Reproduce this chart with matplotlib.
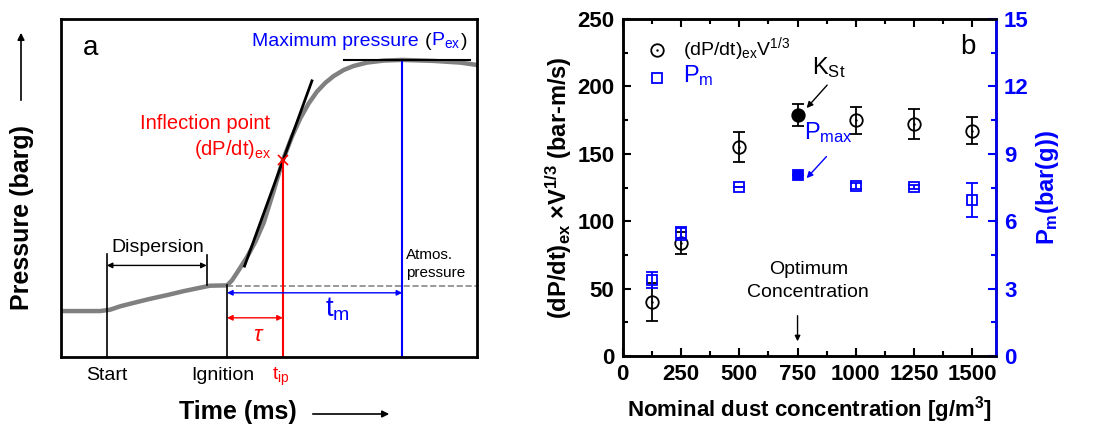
import numpy as np
import matplotlib
matplotlib.use('Agg')
from matplotlib import pyplot as plt
from matplotlib.ticker import MultipleLocator
from matplotlib.lines import Line2D

plt.rcParams['font.family'] = ['Liberation Sans', 'DejaVu Sans']
plt.rcParams['mathtext.fontset'] = 'custom'
plt.rcParams['mathtext.rm'] = 'Liberation Sans'
plt.rcParams['mathtext.it'] = 'Liberation Sans:italic'
plt.rcParams['mathtext.bf'] = 'Liberation Sans:bold'

# ---- panel a : schematic pressure trace (% of box) ----
trace_t = [0, 9.4, 11.8, 14.2, 17.4, 21.0, 25.4, 29.5, 33.4, 35.8, 39.9,
           41.1, 42.7, 44.7, 46.7, 48.7, 51.1, 53.3, 55.5, 57.5, 59.5,
           61.5, 63.5, 65.5, 67.9, 70.3, 73.5, 77.5, 82.0, 89.6, 96.0, 100]
trace_p = [13.6, 13.6, 14.0, 15.0, 16.0, 17.1, 18.3, 19.5, 20.5, 21.1, 21.2,
           22.7, 25.7, 29.6, 34.1, 39.7, 49.1, 58.2, 65.2, 70.6, 75.0,
           78.5, 81.1, 83.1, 84.9, 86.1, 87.1, 87.7, 87.9, 87.6, 87.1, 86.4]
tangent_t = [44.1, 60.3]
tangent_p = [26.9, 81.7]
t_start, t_disp_end, t_ign, t_ip, t_max = 11.0, 35.0, 39.9, 53.3, 82.0
p_atm, p_ip, p_max = 20.9, 58.2, 87.9

# ---- panel b : data ----
conc = [125, 250, 500, 750, 1000, 1250, 1500]
kst = [40, 84, 155, 179, 175, 172, 167]
kst_err = [14, 8, 11, 8, 10, 11, 10]
pm = [3.38, 5.46, 7.53, 8.08, 7.57, 7.53, 6.94]
pm_err = [0.35, 0.28, 0.0, 0.0, 0.15, 0.08, 0.77]
opt = 750

fig = plt.figure(figsize=(11.2, 4.37), dpi=100)

# =========================== panel a ===========================
ax = fig.add_axes([0.0545, 0.183, 0.3715, 0.7735])
ax.set_xlim(0, 100); ax.set_ylim(0, 100)
ax.set_xticks([]); ax.set_yticks([])
for s in ax.spines.values():
    s.set_linewidth(2)

ax.plot(trace_t, trace_p, '-', color='#808080', lw=3.2,
        solid_capstyle='round', solid_joinstyle='round')
ax.plot(tangent_t, tangent_p, '-k', lw=2)
ax.plot([t_ign, 100], [p_atm, p_atm], '--', color='#888888', lw=1.2)
ax.plot([t_start, t_start], [0, 30.6], '-k', lw=1.2)
ax.plot([t_disp_end, t_disp_end], [21.2, 30.1], '-k', lw=1.2)
ax.plot([t_ign, t_ign], [0, 21.2], '-k', lw=1.2)
ax.plot([t_ip, t_ip], [0, p_ip], '-r', lw=1.5)
ax.plot([t_max, t_max], [0, p_max], '-b', lw=1.5)
ax.plot([67.9, 98.4], [p_max, p_max], '-k', lw=1.5)
ax.plot([t_ip], [p_ip], 'x', color='r', ms=7, mew=1.2)

arr = dict(arrowstyle='<|-|>', lw=1, mutation_scale=8, shrinkA=0, shrinkB=0)
ax.annotate('', xy=(t_start, 27.1), xytext=(t_disp_end, 27.1),
            arrowprops=dict(arr, color='k'))
ax.annotate('', xy=(t_ign, 19.0), xytext=(t_max, 19.0),
            arrowprops=dict(arr, color='b'))
ax.annotate('', xy=(t_ign, 11.6), xytext=(t_ip, 11.6),
            arrowprops=dict(arr, color='r'))

ax.text(23.2, 32.3, 'Dispersion', ha='center', va='center', fontsize=14)
ax.text(66.5, 14.0, 't$_{\\mathrm{m}}$', ha='center', va='center', fontsize=20, color='b')
ax.text(47.5, 6.5, '$\\tau$', ha='center', va='center', fontsize=16, color='r',
        family='DejaVu Serif', style='italic')
ax.text(34.6, 69.0, 'Inflection point', ha='center', va='center', fontsize=14.5, color='r')
ax.text(50.5, 61.5, '(dP/dt)$_{\\mathrm{ex}}$', ha='right', va='center', fontsize=14.5, color='r')
ax.text(82.8, 27.5, 'Atmos.\npressure', ha='left', va='center', fontsize=11,
        linespacing=1.3)
ax.text(7.0, 91.5, 'a', ha='center', va='center', fontsize=20)

t1 = ax.text(46.0, 93.3, 'Maximum pressure ', ha='left', va='center',
             fontsize=14, color='b')
t2 = ax.annotate('(', xycoords=t1, xy=(1, 0), va='bottom', fontsize=14, color='k')
t3 = ax.annotate('P$_{\\mathrm{ex}}$', xycoords=t2, xy=(1, 0), va='bottom',
                 fontsize=14, color='b')
ax.annotate(')', xycoords=t3, xy=(1, 0), va='bottom', fontsize=14, color='k')

ax.text(t_start, -5.5, 'Start', ha='center', va='center', fontsize=14, clip_on=False)
ax.text(38.9, -5.5, 'Ignition', ha='center', va='center', fontsize=14, clip_on=False)
ax.text(52.9, -6.0, 't$_{\\mathrm{ip}}$', ha='center', va='center', fontsize=14,
        color='r', clip_on=False)

fig.text(238 / 1120, 1 - 412 / 437, 'Time (ms)', ha='center', va='center',
         fontsize=18, fontweight='bold')
fig.text(22 / 1120, 1 - 217 / 437, 'Pressure (barg)', ha='center', va='center',
         fontsize=18, fontweight='bold', rotation=90)
fig.add_artist(matplotlib.patches.FancyArrowPatch(
    (310 / 1120, 1 - 414 / 437), (392 / 1120, 1 - 414 / 437),
    transform=fig.transFigure, arrowstyle='-|>', mutation_scale=10, lw=1.2, color='k'))
fig.add_artist(matplotlib.patches.FancyArrowPatch(
    (21 / 1120, 1 - 103 / 437), (21 / 1120, 1 - 30 / 437),
    transform=fig.transFigure, arrowstyle='-|>', mutation_scale=10, lw=1.2, color='k'))

# =========================== panel b ===========================
bx = fig.add_axes([0.556, 0.185, 0.333, 0.7715])
bx2 = bx.twinx()
bx.set_xlim(0, 1600); bx.set_ylim(0, 250)
bx2.set_ylim(0, 15)

open_idx = [i for i in range(len(conc)) if conc[i] != opt]
opt_idx = conc.index(opt)

bx.errorbar([conc[i] for i in open_idx], [kst[i] for i in open_idx],
            yerr=[kst_err[i] for i in open_idx], fmt='o', mfc='none', mec='k',
            ms=9, mew=1.3, ecolor='k', elinewidth=1.3, capsize=4, capthick=1.3)
bx.plot([conc[i] for i in open_idx], [kst[i] for i in open_idx], '.', color='k', ms=1.5)
bx.errorbar([conc[opt_idx]], [kst[opt_idx]], yerr=[kst_err[opt_idx]], fmt='o',
            mfc='k', mec='k', ms=9, mew=1.3, ecolor='k', elinewidth=1.3,
            capsize=4, capthick=1.3)

bx2.errorbar([conc[i] for i in open_idx], [pm[i] for i in open_idx],
             yerr=[pm_err[i] for i in open_idx], fmt='s', mfc='none', mec='b',
             ms=7, mew=1.3, ecolor='b', elinewidth=1.3, capsize=4, capthick=1.3)
bx2.errorbar([conc[opt_idx]], [pm[opt_idx]], yerr=[pm_err[opt_idx]], fmt='s',
             mfc='b', mec='b', ms=7, mew=1.3, ecolor='b', elinewidth=1.3,
             capsize=4, capthick=1.3)

for a in (bx, bx2):
    for s in a.spines.values():
        s.set_linewidth(1.8)
bx2.spines['right'].set_color('b')

bx.xaxis.set_major_locator(MultipleLocator(250))
bx.xaxis.set_minor_locator(MultipleLocator(125))
bx.yaxis.set_major_locator(MultipleLocator(50))
bx.yaxis.set_minor_locator(MultipleLocator(25))
bx2.yaxis.set_major_locator(MultipleLocator(3))
bx2.yaxis.set_minor_locator(MultipleLocator(1.5))
bx.tick_params(which='both', direction='in', top=True, right=False, width=1.5)
bx.tick_params(which='major', length=6, labelsize=16, pad=6)
bx.tick_params(which='minor', length=3.5)
bx2.tick_params(which='both', direction='in', colors='b', width=1.5)
bx2.tick_params(which='major', length=6, labelsize=16, pad=6)
bx2.tick_params(which='minor', length=3.5)
for lab in bx.get_xticklabels() + bx.get_yticklabels() + bx2.get_yticklabels():
    lab.set_fontweight('bold')

bx.set_xlabel('Nominal dust concentration [g/m$^{\\mathbf{3}}$]', fontsize=16,
              fontweight='bold', labelpad=6)
bx.set_ylabel('(dP/dt)$_{\\mathbf{ex}}$ ×V$^{\\mathbf{1/3}}$ (bar-m/s)', fontsize=17,
              fontweight='bold', labelpad=2)
bx2.set_ylabel('P$_{\\mathbf{m}}$(bar(g))', fontsize=17, fontweight='bold',
               color='b', labelpad=4)

hc = (Line2D([], [], ls='none', marker='o', mfc='none', mec='k', ms=9, mew=1.3),
      Line2D([], [], ls='none', marker='.', color='k', ms=1.5))
hs = Line2D([], [], ls='none', marker='s', mfc='none', mec='b', ms=7, mew=1.3)
leg = bx.legend([hc, hs], ['(dP/dt)$_{\\mathrm{ex}}$V$^{1/3}$', 'P$_{\\mathrm{m}}$'],
                loc='upper left', bbox_to_anchor=(0.04, 0.99), frameon=False,
                handletextpad=1.4, labelspacing=0.05, handlelength=1.0)
leg.get_texts()[0].set_fontsize(14)
leg.get_texts()[1].set_fontsize(17)
leg.get_texts()[1].set_color('b')

bx.text(884, 214, 'K$_{\\mathrm{St}}$', ha='center', va='center', fontsize=17)
bx.annotate('', xy=(789, 184), xytext=(877, 201),
            arrowprops=dict(arrowstyle='-|>', color='k', lw=1, mutation_scale=9,
                            shrinkA=0, shrinkB=0))
bx.text(881, 166, 'P$_{\\mathrm{max}}$', ha='center', va='center', fontsize=17, color='b')
bx.annotate('', xy=(789, 132), xytext=(874, 148),
            arrowprops=dict(arrowstyle='-|>', color='b', lw=1, mutation_scale=9,
                            shrinkA=0, shrinkB=0))
bx.text(796, 56, 'Optimum\nConcentration', ha='center', va='center', fontsize=14,
        linespacing=1.45)
bx.annotate('', xy=(opt, 11), xytext=(opt, 30),
            arrowprops=dict(arrowstyle='-|>', color='k', lw=1, mutation_scale=8,
                            shrinkA=0, shrinkB=0))
bx.text(1481, 229, 'b', ha='center', va='center', fontsize=20)

fig.savefig('out.png', dpi=100)
